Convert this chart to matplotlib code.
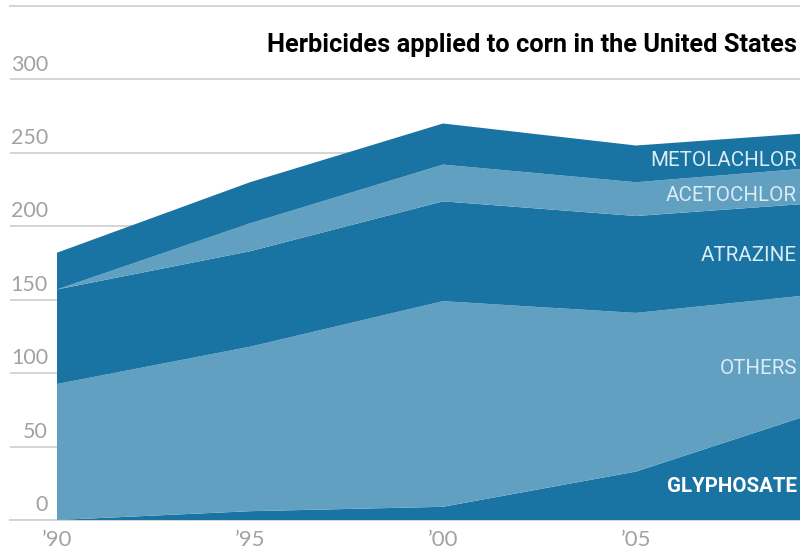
import numpy as np
import matplotlib
matplotlib.use('Agg')
import matplotlib.pyplot as plt

years = [1990, 1995, 2000, 2005, 2009.25]
glyphosate = [0, 6, 9, 33, 69.5]
others = [92.6, 112, 140, 108, 83]
atrazine = [64.4, 65, 68, 66, 62.5]
acetochlor = [0, 19, 25, 23, 24]
metolachlor = [25, 28, 28, 25, 24]

y_ticks = [0, 50, 100, 150, 200, 250, 300]
x_ticks = [1990, 1995, 2000, 2005]
x_labels = ["’90", "’95", "’00", "’05"]

dark = '#1a74a3'
light = '#61a0c1'
grid = '#d4d4d4'
label_col = '#dcecf4'
tick_col = '#a2a2a2'

fig = plt.figure(figsize=(8, 5.57), dpi=100)
ax = fig.add_axes([10 / 800, 1 - 520 / 557, 790 / 800, 514 / 557])
ax.set_xlim(1990 - 47 * 5 / 193, 1990 + 743 * 5 / 193)
ax.set_ylim(0, 350)

ax.stackplot(years, glyphosate, others, atrazine, acetochlor, metolachlor,
             colors=[dark, light, dark, light, dark], linewidth=0, zorder=3)

for s in ['left', 'right']:
    ax.spines[s].set_visible(False)
for s in ['top', 'bottom']:
    ax.spines[s].set_color(grid)
    ax.spines[s].set_linewidth(1.4)

ax.set_yticks(y_ticks)
ax.set_yticklabels([])
ax.tick_params(axis='y', length=0)
ax.grid(axis='y', color=grid, linewidth=1.4, zorder=1)
ax.set_axisbelow(True)

ax.set_xticks(x_ticks)
ax.set_xticklabels(x_labels, fontname='Lato', fontsize=16, color=tick_col)
ax.tick_params(axis='x', length=0, pad=7.2)

# y labels sit above the gridlines
for v in y_ticks:
    ax.annotate(str(v), (48, v), xycoords=('figure pixels', 'data'), xytext=(0, 3.5),
                textcoords='offset points', ha='right', va='bottom', fontname='Lato',
                fontsize=15.5, color=tick_col)

fig.text(797 / 800, 1 - 45 / 557, 'Herbicides applied to corn in the United States', ha='right', va='center',
         fontname='Roboto', fontweight='bold', fontsize=18.3, color='black')

labels = ['METOLACHLOR', 'ACETOCHLOR', 'ATRAZINE', 'OTHERS', 'GLYPHOSATE']
label_y = [161, 195, 255.5, 368.5, 486.5]
for name, py in zip(labels, label_y):
    bold = name == 'GLYPHOSATE'
    fig.text(797 / 800, 1 - py / 557, name, ha='right', va='center', fontname='Roboto',
             fontweight='bold' if bold else 'normal', fontsize=14.8, color='white' if bold else label_col, zorder=5)

fig.savefig('out.png', dpi=100)
